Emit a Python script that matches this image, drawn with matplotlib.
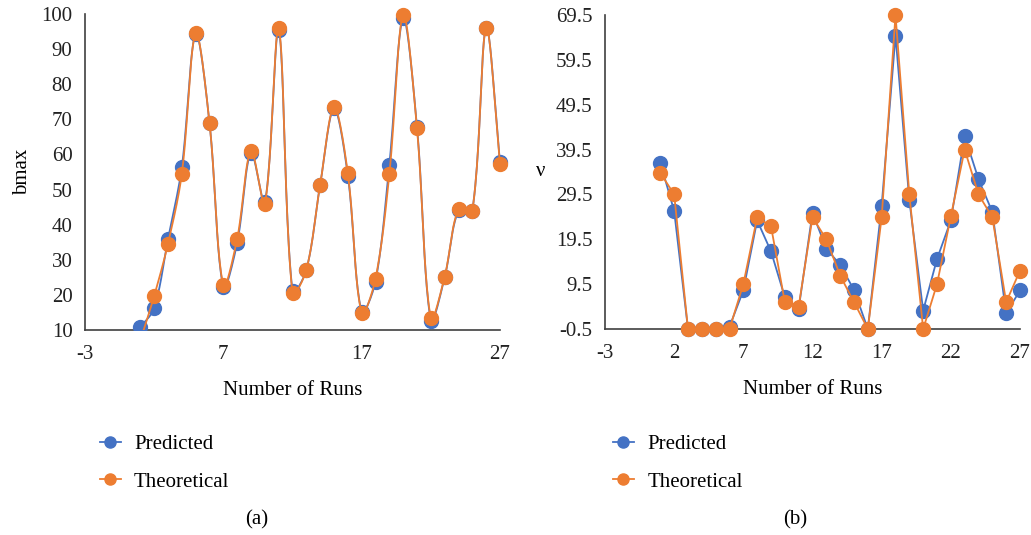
import matplotlib
matplotlib.use('Agg')
import matplotlib.pyplot as plt
from matplotlib.lines import Line2D
from matplotlib.patches import Rectangle
import numpy as np

runs = list(range(1, 28))

# panel (a): bmax
bmax_pred = [10.8, 16.2, 35.9, 56.4, 94.3, 69.0, 22.2, 34.8, 60.5, 46.4, 95.4, 21.0, 27.1, 51.4,
             73.1, 54.0, 15.2, 23.8, 57.1, 98.8, 67.8, 12.7, 25.0, 44.1, 44.0, 96.0, 57.9]
bmax_theo = [7.0, 19.7, 34.6, 54.5, 94.6, 69.0, 22.7, 36.0, 61.1, 46.0, 96.1, 20.5, 27.1, 51.4,
             73.5, 54.6, 14.8, 24.6, 54.3, 99.8, 67.4, 13.3, 25.2, 44.5, 44.0, 96.0, 57.4]

# panel (b): nu
nu_pred = [36.6, 25.8, -0.5, -0.5, -0.5, 0.0, 8.1, 23.7, 16.8, 6.6, 4.0, 25.4, 17.4, 13.8,
           8.2, -0.5, 27.0, 64.9, 28.2, 3.6, 15.1, 23.7, 42.5, 32.9, 25.6, 3.0, 8.1]
nu_theo = [34.3, 29.5, -0.5, -0.5, -0.5, -0.5, 9.5, 24.4, 22.4, 5.5, 4.5, 24.4, 19.5, 11.4,
           5.5, -0.5, 24.4, 69.5, 29.5, -0.5, 9.5, 24.6, 39.5, 29.5, 24.4, 5.5, 12.5]

series_names = ['Predicted', 'Theoretical']
colors = ['#4472C4', '#ED7D31']

plt.rcParams['font.family'] = ['Liberation Serif', 'DejaVu Serif']
plt.rcParams['font.size'] = 15
plt.rcParams['axes.unicode_minus'] = False
FS = 15


def smooth(ax, x, y, n=24):
    # bezier smoothing done in pixel space, control arms scaled by chord length
    tr = ax.transData
    pts = tr.transform(np.column_stack([x, y]))
    p = np.vstack([pts[0], pts, pts[-1]])
    t = np.linspace(0, 1, n)[:, None]
    out = []
    for i in range(1, len(p) - 2):
        p0, p1, p2, p3 = p[i - 1], p[i], p[i + 1], p[i + 2]
        d01 = np.hypot(*(p1 - p0))
        d12 = np.hypot(*(p2 - p1))
        d23 = np.hypot(*(p3 - p2))
        c1 = p1 + (p2 - p0) * (d12 / max(d01 + d12, 1e-9)) / 3
        c2 = p2 - (p3 - p1) * (d12 / max(d12 + d23, 1e-9)) / 3
        seg = (1 - t) ** 3 * p1 + 3 * (1 - t) ** 2 * t * c1 + 3 * (1 - t) * t ** 2 * c2 + t ** 3 * p2
        out.append(seg)
    out = np.vstack(out)
    back = tr.inverted().transform(out)
    return back[:, 0], back[:, 1]


def style_axes(ax, ymin, ymax, ystep, xstep):
    for s in ['top', 'right']:
        ax.spines[s].set_visible(False)
    for s in ['left', 'bottom']:
        ax.spines[s].set_color('#404040')
        ax.spines[s].set_linewidth(1.2)
    ax.set_xlim(-3, 27)
    ax.set_ylim(ymin, ymax)
    ax.set_xticks(np.arange(-3, 28, xstep))
    ax.set_yticks(np.arange(ymin, ymax + 0.01, ystep))
    ax.tick_params(length=0, labelsize=FS, colors='#222222')
    ax.tick_params(axis='x', pad=11)
    ax.tick_params(axis='y', pad=9)
    ax.set_xlabel('Number of Runs', labelpad=12, fontsize=FS)


fig = plt.figure(figsize=(10.31, 5.35), dpi=100)
ax1 = fig.add_axes([85 / 1031, 1 - 330 / 535, 415 / 1031, 316 / 535])
ax2 = fig.add_axes([605 / 1031, 1 - 329 / 535, 415 / 1031, 314 / 535])
style_axes(ax1, 10, 100, 10, 10)
style_axes(ax2, -0.5, 69.5, 10, 5)

# clip only below the x axis, markers may stick out elsewhere
clip1 = Rectangle((-0.1, 0), 1.2, 1.2, transform=ax1.transAxes, visible=False)
ax1.add_patch(clip1)
for vals, c in zip([bmax_pred, bmax_theo], colors):
    sx, sy = smooth(ax1, runs, vals)
    ln, = ax1.plot(sx, sy, color=c, lw=1.3, zorder=3)
    mk, = ax1.plot(runs, vals, 'o', color=c, ms=10, zorder=3)
    ln.set_clip_path(clip1)
    mk.set_clip_path(clip1)
ax1.set_ylabel('bmax', fontsize=FS, labelpad=7)

for vals, c in zip([nu_pred, nu_theo], colors):
    ax2.plot(runs, vals, '-o', color=c, lw=1.3, ms=10, zorder=3, clip_on=False)
ax2.set_yticklabels([f'{v:.1f}' for v in np.arange(-0.5, 69.6, 10)])
ax2.set_ylabel('ν', rotation=0, fontsize=FS, labelpad=11, va='center')

handles = [Line2D([], [], color=c, lw=1.3, marker='o', ms=8) for c in colors]
for x0 in [81 / 1031, 594 / 1031]:
    fig.legend(handles, series_names, loc='upper left', bbox_to_anchor=(x0, 1 - 416 / 535),
               frameon=False, handlelength=1.0, handletextpad=0.65, labelspacing=0.85, fontsize=FS)
fig.text(257 / 1031, 1 - 520 / 535, '(a)', ha='center', va='center', fontsize=FS)
fig.text(795 / 1031, 1 - 520 / 535, '(b)', ha='center', va='center', fontsize=FS)

fig.savefig('out.png', dpi=100)
